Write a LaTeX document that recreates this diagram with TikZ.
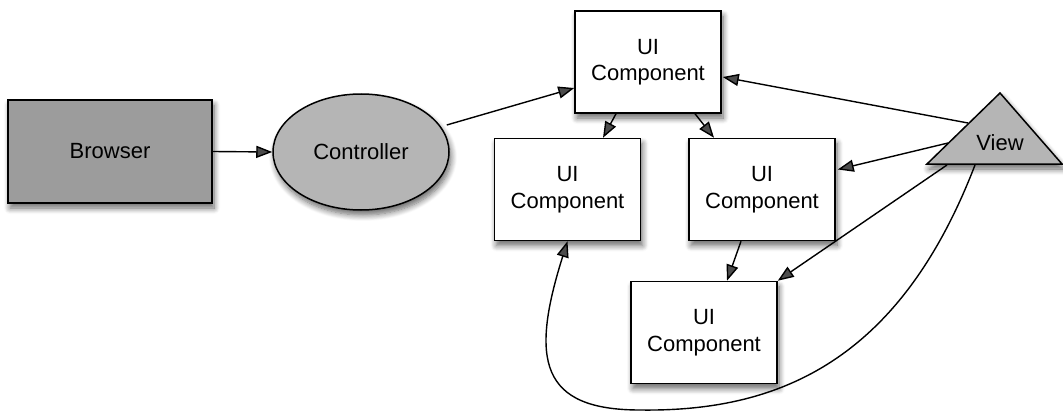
\documentclass[tikz,border=0pt]{standalone}
\usepackage{fontspec}
\setmainfont{Liberation Sans}
\usetikzlibrary{arrows.meta,shadows.blur,shapes.geometric,calc}
\definecolor{browsergray}{gray}{0.61}
\definecolor{lightgray}{gray}{0.71}
\begin{document}
\begin{tikzpicture}[x=1pt,y=-1pt,
  every node/.style={font=\fontsize{22}{26.5}\selectfont},
  softshadow/.style={blur shadow={shadow xshift=2pt, shadow yshift=-5pt,
      shadow blur steps=8, shadow blur radius=6pt, shadow opacity=60}},
  box/.style={draw, line width=1.5pt, fill=white, minimum width=146pt,
      minimum height=102pt, align=center, inner sep=2pt, softshadow},
  link/.style={line width=1.4pt, -{Triangle[length=16pt,width=12pt]}}]
\useasboundingbox (0,0) rectangle (1063,412);

% browser and controller
\node[draw, line width=1.5pt, fill=browsergray, minimum width=204pt,
      minimum height=103pt, softshadow] (browser) at (110,151.5) {Browser};
\node[draw, ellipse, line width=1.5pt, fill=lightgray, minimum width=176pt,
      minimum height=116pt, softshadow] (ctrl) at (361,152) {Controller};

% component tree
\node[box] (top) at (648,62) {UI\\Component};
\node[box] (ml)  at (567.5,189.5) {UI\\Component};
\node[box] (mr)  at (762,189.5) {UI\\Component};
\node[box] (bot) at (704,332.5) {UI\\Component};

% view triangle
\draw[line width=1.5pt, fill=lightgray, softshadow]
  (927,164) -- (1000,93) -- (1062,164) -- cycle;
\node (view) at (1000,143) {View};
\coordinate (vA) at (968,123);
\coordinate (vB) at (948,143);
\coordinate (vC) at (947,165);
\coordinate (vD) at (975,165);

% connectors
\draw[link] (browser.east) -- (ctrl.west);
\draw[link] ($(ctrl.east)+(-3,-27)$) -- ($(top.west)+(0,26)$);
\draw[link] ($(top.south)+(-32,0)$) -- ($(ml.north)+(35.5,0)$);
\draw[link] ($(top.south)+(47,0)$) -- ($(mr.north)+(-48,0)$);
\draw[link] ($(mr.south)+(-21,0)$) -- ($(bot.north)+(23,0)$);
\draw[link] (vA) -- ($(top.east)+(1,15)$);
\draw[link] (vB) -- ($(mr.east)+(2,-20)$);
\draw[link] (vC) -- (bot.north east);
\draw[link] (vD) .. controls (900,360) and (780,412) .. (640,410)
  .. controls (540,410) and (530,360) .. (ml.south);
\end{tikzpicture}
\end{document}
